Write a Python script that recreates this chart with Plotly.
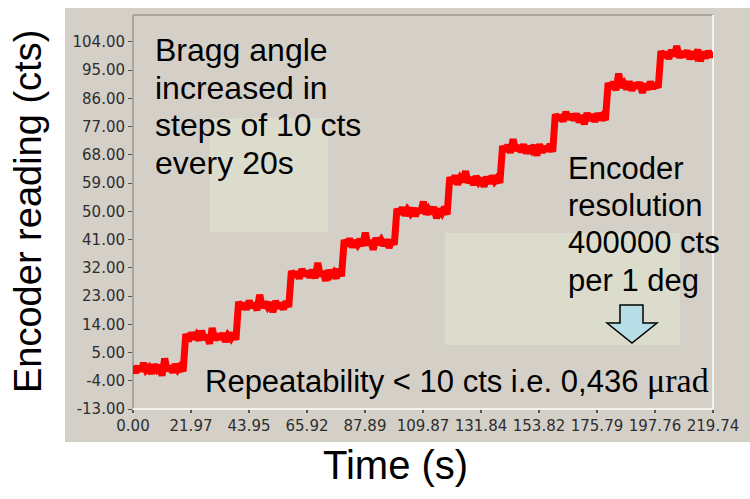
import plotly.graph_objects as go

# Encoder readings sampled every 1 s while the Bragg angle is stepped by 10 cts every 20 s
time_s = list(range(0, 220)) + [219.74]
reading_cts = [
    # 0 cts
    0.8, -1.4, 0.5, -0.9, 1.6, -0.6, 0.2, -1.7, 1.1, -0.3,
    0.9, -2.4, 3.1, -0.8, 0.6, -1.3, 1.2, -0.4, 0.7, -1.0,
    # 10 cts
    10.9, 8.6, 11.3, 9.4, 10.6, 8.9, 11.9, 9.2, 10.4, 7.8,
    12.8, 9.0, 10.8, 9.3, 11.1, 8.5, 10.5, 9.5, 11.2, 9.1,
    # 20 cts
    21.2, 18.9, 20.8, 18.7, 21.5, 19.4, 20.6, 18.5, 23.4, 19.3,
    21.0, 19.6, 20.9, 17.9, 21.4, 19.2, 20.7, 18.8, 21.3, 19.5,
    # 30 cts
    31.0, 29.2, 30.7, 28.6, 31.6, 29.5, 30.9, 29.0, 31.3, 28.7,
    33.6, 29.4, 30.8, 27.9, 31.2, 29.6, 30.5, 28.7, 31.6, 29.3,
    # 40 cts
    40.9, 39.1, 41.3, 38.6, 40.6, 39.4, 41.1, 39.0, 43.2, 39.3,
    40.7, 37.8, 41.5, 39.5, 40.8, 39.2, 41.0, 38.4, 40.9, 39.4,
    # 50 cts
    50.8, 49.2, 51.2, 48.7, 50.5, 49.4, 51.0, 48.5, 50.9, 49.6,
    53.1, 49.1, 50.6, 49.3, 51.4, 47.8, 50.7, 49.5, 51.3, 49.0,
    # 60 cts
    60.9, 59.0, 61.4, 58.6, 60.6, 59.5, 62.8, 59.1, 60.8, 58.5,
    61.2, 59.4, 60.5, 57.9, 61.0, 58.9, 61.3, 59.6, 60.7, 59.1,
    # 70 cts
    70.8, 69.2, 71.1, 68.7, 73.0, 69.4, 70.9, 69.0, 71.3, 68.5,
    70.6, 69.5, 71.0, 67.8, 71.4, 68.8, 70.7, 69.3, 71.4, 69.0,
    # 80 cts
    81.0, 79.1, 80.7, 78.7, 81.7, 79.4, 80.8, 79.2, 81.1, 78.4,
    80.6, 77.8, 81.3, 79.0, 80.9, 78.6, 81.2, 79.3, 80.5, 79.1,
    # 90 cts
    90.9, 89.3, 91.2, 88.6, 93.9, 89.5, 90.7, 89.0, 91.4, 88.5,
    90.8, 89.4, 91.1, 87.8, 90.6, 88.9, 91.3, 89.2, 90.8, 89.4,
    # 100 cts
    101.1, 99.2, 100.8, 98.7, 101.4, 99.5, 102.7, 99.0, 100.9, 99.3,
    101.2, 98.6, 100.7, 99.6, 101.5, 97.9, 100.8, 98.9, 101.0, 99.4,
    100.4,
]

x_tick_vals = [0.00, 21.97, 43.95, 65.92, 87.89, 109.87, 131.84, 153.82, 175.79, 197.76, 219.74]
x_tick_text = ["0.00", "21.97", "43.95", "65.92", "87.89", "109.87", "131.84",
               "153.82", "175.79", "197.76", "219.74"]
y_tick_vals = [-13, -4, 5, 14, 23, 32, 41, 50, 59, 68, 77, 86, 95, 104]
y_tick_text = [f"{v:.2f}" for v in y_tick_vals]

W, H = 750, 499
L, R, T, B = 133, 713, 15, 409  # plot area in pixels


def px(x):
    return (x - L) / (R - L)


def py(y):
    return (B - y) / (B - T)


PANEL = "#d4d0c8"
NOTE_BG = "#dcdccd"

fig = go.Figure()
fig.add_trace(go.Scatter(
    x=time_s, y=reading_cts, mode="lines",
    line=dict(color="#ff0000", width=7, simplify=False),
    hoverinfo="skip", showlegend=False,
))

shapes = [
    # window panel
    dict(type="rect", xref="paper", yref="paper", x0=px(65), x1=px(752), y0=py(442), y1=py(8),
         fillcolor=PANEL, line=dict(width=0), layer="below"),
    # highlighted note boxes
    dict(type="rect", xref="paper", yref="paper", x0=px(210), x1=px(328), y0=py(232), y1=py(118),
         fillcolor=NOTE_BG, line=dict(width=0), layer="below"),
    dict(type="rect", xref="paper", yref="paper", x0=px(445), x1=px(680), y0=py(345), y1=py(233),
         fillcolor=NOTE_BG, line=dict(width=0), layer="below"),
    # sunken frame of the plot area
    dict(type="line", xref="paper", yref="paper", x0=0, x1=1, y0=1, y1=1,
         line=dict(color="#a8a49c", width=2), layer="below"),
    dict(type="line", xref="paper", yref="paper", x0=0, x1=0, y0=0, y1=1,
         line=dict(color="#a8a49c", width=2), layer="below"),
    dict(type="line", xref="paper", yref="paper", x0=0, x1=1, y0=0, y1=0,
         line=dict(color="#f4f3ef", width=2), layer="below"),
    dict(type="line", xref="paper", yref="paper", x0=1, x1=1, y0=0, y1=1,
         line=dict(color="#f4f3ef", width=2), layer="below"),
]

# block arrow pointing down at the repeatability note
arrow_pts = [(620, 305), (643, 305), (643, 323), (657, 323), (632, 343), (607, 323), (620, 323)]
path = "M " + " L ".join(f"{px(x):.5f},{py(y):.5f}" for x, y in arrow_pts) + " Z"
shapes.append(dict(type="path", xref="paper", yref="paper", path=path,
                   fillcolor="#b7dde6", line=dict(color="#000000", width=1.5), layer="above"))

FONT = "Liberation Sans, Arial, sans-serif"
annotations = []


def note(text, x, y, size=32, xanchor="left"):
    annotations.append(dict(text=text, xref="paper", yref="paper", x=px(x), y=py(y),
                            xanchor=xanchor, yanchor="middle", showarrow=False,
                            font=dict(family=FONT, size=size, color="#000000")))


for i, line in enumerate(["Bragg angle", "increased in", "steps of 10 cts", "every 20s"]):
    note(line, 153, 50 + 37.5 * i)
for i, line in enumerate(["Encoder", "resolution", "400000 cts", "per 1 deg"]):
    note(line, 566, 168 + 37.5 * i, size=31)
note("Repeatability &lt; 10 cts i.e. 0,436 "
     "<span style='font-family:Liberation Serif, Times New Roman, serif;font-size:34px'>μrad</span>",
     203, 380, size=31)

# axis titles
annotations.append(dict(text="Time (s)", xref="paper", yref="paper", x=px(395), y=py(465),
                        xanchor="center", yanchor="middle", showarrow=False,
                        font=dict(family=FONT, size=40, color="#000000")))
annotations.append(dict(text="Encoder reading (cts)", xref="paper", yref="paper", x=px(28), y=py(212),
                        xanchor="center", yanchor="middle", showarrow=False, textangle=-90,
                        font=dict(family=FONT, size=38, color="#000000")))

tick_font = dict(family="DejaVu Sans, Verdana, sans-serif", size=15, color="#2e2e2e")
fig.update_layout(
    width=W, height=H,
    margin=dict(l=L, r=W - R, t=T, b=H - B),
    paper_bgcolor="#ffffff", plot_bgcolor=PANEL,
    shapes=shapes, annotations=annotations,
    xaxis=dict(range=[0, 219.74], tickmode="array", tickvals=x_tick_vals, ticktext=x_tick_text,
               ticks="outside", ticklen=3, tickwidth=2, tickcolor="#555555",
               showgrid=False, zeroline=False, showline=False, tickfont=tick_font),
    yaxis=dict(range=[-13, 112.6], tickmode="array", tickvals=y_tick_vals, ticktext=y_tick_text,
               ticks="outside", ticklen=4, tickwidth=1, tickcolor="#555555",
               showgrid=False, zeroline=False, showline=False, tickfont=tick_font),
)

fig.write_html("out.html")
